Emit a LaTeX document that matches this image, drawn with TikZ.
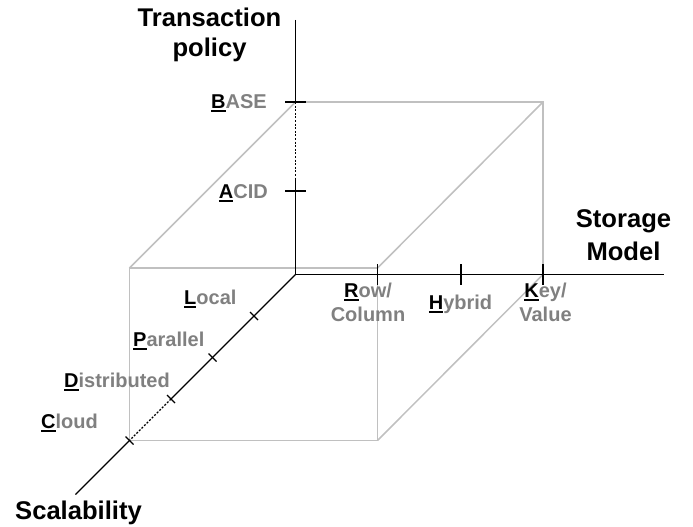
\documentclass[tikz,border=0pt]{standalone}
\usepackage{fontspec}
\setmainfont{Liberation Sans}
\definecolor{labgray}{RGB}{128,128,128}
\definecolor{cubegray}{RGB}{192,192,192}
\newcommand\fu[1]{{\color{black}\sbox0{#1}\rlap{\rule[-3.6pt]{\wd0}{2pt}}\usebox0}}
\begin{document}
\begin{tikzpicture}[x=1pt,y=-1pt,
  axis/.style={line width=1.3pt,black},
  cubeedge/.style={line width=1.5pt,cubegray},
  dotline/.style={line width=1.3pt,black,dash pattern=on 2pt off 1.6pt},
  tickmark/.style={line width=1.3pt,black},
  lab/.style={font=\fontsize{20}{24}\selectfont\bfseries,text=labgray,inner sep=0pt},
  ttl/.style={font=\fontsize{25.6}{30}\selectfont\bfseries,text=black,inner sep=0pt}]
\useasboundingbox (0,0) rectangle (693,527);
% axis points
\coordinate (O) at (295.5,274.5);
\coordinate (Ytop) at (295.5,20);
\coordinate (Xend) at (664,274.5);
\coordinate (Bk) at (295.5,102);
\coordinate (Vd) at (295.5,180);
\coordinate (Ak) at (295.5,191);
\coordinate (Rk) at (377.5,274.5);
\coordinate (Hk) at (461,274.5);
\coordinate (Kk) at (543,274.5);
\coordinate (Lk) at (254,316);
\coordinate (Pk) at (212.5,357.5);
\coordinate (Dk) at (171,399);
\coordinate (Ck) at (129.5,440.5);
\coordinate (Zend) at (75.5,494.5);
% cube corners
\coordinate (E) at (295.5,102);
\coordinate (F) at (543,102);
\coordinate (G) at (543,274.5);
\coordinate (FA) at (129.5,268);
\coordinate (FB) at (377.5,268);
\coordinate (FC) at (377.5,440.5);
\coordinate (FD) at (129.5,440.5);
% cube
\draw[cubeedge] (FA) -- (FB) -- (FC) -- (FD) -- cycle;
\draw[cubeedge] (E) -- (F) -- (G);
\draw[cubeedge] (E) -- (FA);
\draw[cubeedge] (F) -- (FB);
\draw[cubeedge] (G) -- (FC);
% axes
\draw[axis] (Ytop) -- (Bk);
\draw[dotline] (Bk) -- (Vd);
\draw[axis] (Vd) -- (O);
\draw[axis] (O) -- (Xend);
\draw[axis] (O) -- (Dk);
\draw[dotline] (Dk) -- (Ck);
\draw[axis] (Ck) -- (Zend);
% ticks
\foreach \t in {Bk,Ak}
  \draw[tickmark] ([shift={(-10.5,0)}]\t) -- ([shift={(10.5,0)}]\t);
\foreach \t in {Rk,Hk,Kk}
  \draw[tickmark] ([shift={(0,-10.5)}]\t) -- ([shift={(0,10.5)}]\t);
\foreach \t in {Lk,Pk,Dk,Ck}
  \draw[tickmark] ([shift={(-4,-4)}]\t) -- ([shift={(4,4)}]\t);
% labels
\node[lab,anchor=base east] (base) at (267,108.5) {\fu{B}ASE};
\node[lab,anchor=base east] (acid) at (268,198) {\fu{A}CID};
\node[lab,anchor=base west] (local) at (184,304) {\fu{L}ocal};
\node[lab,anchor=base west] (parallel) at (133,346) {\fu{P}arallel};
\node[lab,anchor=base west] (distributed) at (64,387) {\fu{D}istributed};
\node[lab,anchor=base west] (cloud) at (41,428) {\fu{C}loud};
\node[lab,anchor=base] (row) at (368,297) {\fu{R}ow/};
\node[lab,anchor=base] (column) at (368,321) {Column};
\node[lab,anchor=base] (hybrid) at (460.5,309) {\fu{H}ybrid};
\node[lab,anchor=base] (key) at (545.5,297) {\fu{K}ey/};
\node[lab,anchor=base] (value) at (545.5,321) {Value};
% titles
\node[ttl,anchor=base] (trans) at (209.5,26.5) {Transaction};
\node[ttl,anchor=base] (policy) at (209.5,56.5) {policy};
\node[ttl,anchor=base] (storage) at (623.5,227.5) {Storage};
\node[ttl,anchor=base] (model) at (623.5,260) {Model};
\node[ttl,anchor=base west] (scal) at (15,519.5) {Scalability};
\end{tikzpicture}
\end{document}
